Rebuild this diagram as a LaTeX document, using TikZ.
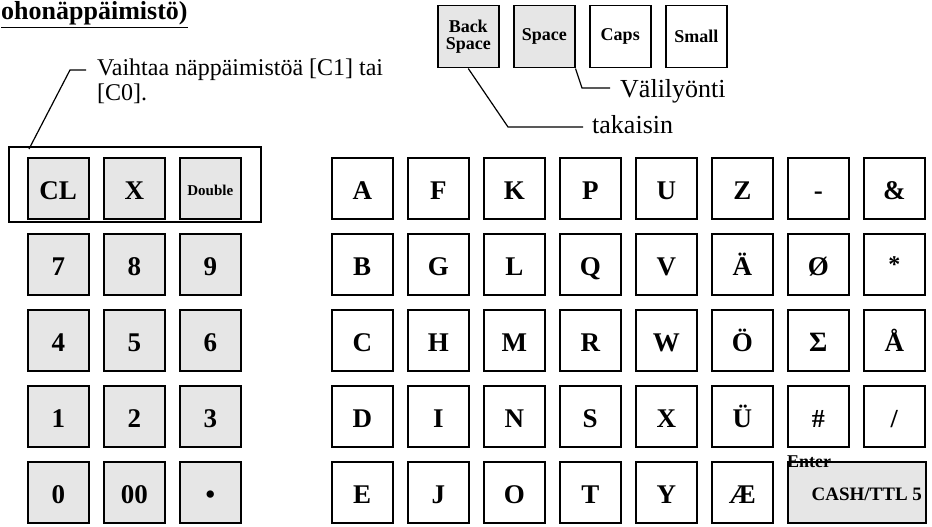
\documentclass[tikz,border=0pt]{standalone}
\usepackage{fontspec}
\setmainfont{Liberation Serif}
\definecolor{keygray}{HTML}{E6E6E6}
\newcommand\myfs[1]{\fontsize{#1}{#1}\selectfont}
\begin{document}
\begin{tikzpicture}[x=1pt,y=-1pt,
  keybase/.style={draw, line width=1.5pt, minimum width=61pt, minimum height=61pt,
    inner sep=0pt, anchor=north west, font=\bfseries\myfs{27}},
  key/.style={keybase, text height=22pt, text depth=0pt},
  gkey/.style={key, fill=keygray},
  topkey/.style={keybase, minimum height=62pt, font=\bfseries\myfs{18}, align=center},
  lead/.style={line width=1.2pt},
  note/.style={anchor=base west, inner sep=0pt, font=\myfs{24}},
  note2/.style={anchor=base west, inner sep=0pt, font=\myfs{26}}]
\useasboundingbox (0,0) rectangle (932,527);

% title
\node[anchor=base west, inner sep=0pt, font=\bfseries\myfs{26}] (title) at (1,20) {\underline{ohonäppäimistö)}};

% top keys
\node[topkey, fill=keygray] (bs) at (437,5) {Back\\[-1pt]Space};
\node[topkey, fill=keygray] (sp) at (513,5) {Space};
\node[topkey] (caps) at (589,5) {Caps};
\node[topkey] (small) at (665,5) {Small};

\node[note2] (vl) at (620,98) {Välilyönti};
\node[note2] (tk) at (592,133) {takaisin};
\coordinate (vlA) at (582,88);
\coordinate (vlB) at (610,88);
\coordinate (tkA) at (508,127);
\coordinate (tkB) at (583,127);
\draw[lead] (sp.south east) -- (vlA) -- (vlB);
\draw[lead] (bs.south) -- (tkA) -- (tkB);

% annotation for the switch row
\node[note] (v1) at (97,75) {Vaihtaa näppäimistöä [C1] tai};
\node[note] (v2) at (97,100) {[C0].};
\node[draw, line width=1.5pt, inner sep=0pt, minimum width=252pt, minimum height=75pt, anchor=north west] (frame) at (8,146) {};
\coordinate (vA) at (29,149);
\coordinate (vB) at (70,70);
\coordinate (vC) at (86,70);
\draw[lead] (vA) -- (vB) -- (vC);

% numeric keypad
\node[gkey] (kCL) at (27,157) {CL};
\node[gkey] (kX) at (103,157) {X};
\node[gkey, font=\bfseries\myfs{15}, text height=14pt] (kDbl) at (179,157) {Double};
\node[gkey] (k7) at (27,233) {7};
\node[gkey] (k8) at (103,233) {8};
\node[gkey] (k9) at (179,233) {9};
\node[gkey] (k4) at (27,309) {4};
\node[gkey] (k5) at (103,309) {5};
\node[gkey] (k6) at (179,309) {6};
\node[gkey] (k1) at (27,385) {1};
\node[gkey] (k2) at (103,385) {2};
\node[gkey] (k3) at (179,385) {3};
\node[gkey] (k0) at (27,461) {0};
\node[gkey] (k00) at (103,461) {00};
\node[gkey] (kdot) at (179,461) {•};

% letter keys
\node[key] (kA) at (331,157) {A};
\node[key] (kF) at (407,157) {F};
\node[key] (kK) at (483,157) {K};
\node[key] (kP) at (559,157) {P};
\node[key] (kU) at (635,157) {U};
\node[key] (kZ) at (711,157) {Z};
\node[key] (kminus) at (787,157) {-};
\node[key] (kamp) at (863,157) {\&};

\node[key] (kB) at (331,233) {B};
\node[key] (kG) at (407,233) {G};
\node[key] (kL) at (483,233) {L};
\node[key] (kQ) at (559,233) {Q};
\node[key] (kV) at (635,233) {V};
\node[key] (kAe) at (711,233) {Ä};
\node[key] (kOs) at (787,233) {Ø};
\node[keybase, font=\bfseries\myfs{24}] (kstar) at (863,233) {*};

\node[key] (kC) at (331,309) {C};
\node[key] (kH) at (407,309) {H};
\node[key] (kM) at (483,309) {M};
\node[key] (kR) at (559,309) {R};
\node[key] (kW) at (635,309) {W};
\node[key] (kOe) at (711,309) {Ö};
\node[key, font=\bfseries\myfs{28}] (ksum) at (787,309) {Σ};
\node[key] (kAa) at (863,309) {Å};

\node[key] (kD) at (331,385) {D};
\node[key] (kI) at (407,385) {I};
\node[key] (kN) at (483,385) {N};
\node[key] (kS) at (559,385) {S};
\node[key] (kXX) at (635,385) {X};
\node[key] (kUe) at (711,385) {Ü};
\node[key, font=\bfseries\myfs{26}] (khash) at (787,385) {\#};
\node[key, font=\bfseries\myfs{26}] (kslash) at (863,385) {/};

\node[key] (kE) at (331,461) {E};
\node[key] (kJ) at (407,461) {J};
\node[key] (kO) at (483,461) {O};
\node[key] (kT) at (559,461) {T};
\node[key] (kY) at (635,461) {Y};
\node[key] (kAE) at (711,461) {Æ};
\node[gkey, minimum width=138pt, font=\bfseries\myfs{19}, text height=16pt] (kcash) at (787,461) {\hspace*{20pt}CASH/TTL 5};
\node[anchor=base west, inner sep=0pt, font=\bfseries\myfs{18}] (enter) at (787,467) {Enter};
\end{tikzpicture}
\end{document}
